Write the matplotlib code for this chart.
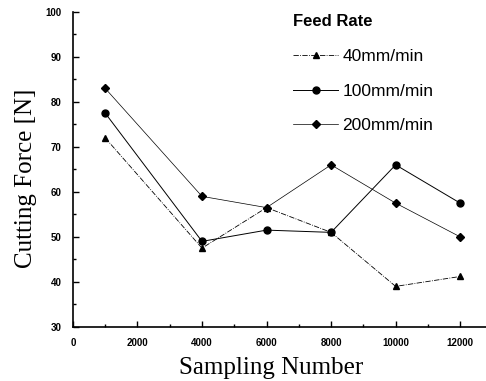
import matplotlib
matplotlib.use("Agg")
import matplotlib.pyplot as plt
from matplotlib.ticker import MultipleLocator

# Daten
sampling = [1000, 4000, 6000, 8000, 10000, 12000]
force_40 = [72, 47.5, 56.5, 51, 39, 41.2]
force_100 = [77.5, 49, 51.5, 51, 66, 57.5]
force_200 = [83, 59, 56.5, 66, 57.5, 50]
labels = ["40mm/min", "100mm/min", "200mm/min"]

fig = plt.figure(figsize=(4.86, 3.81), dpi=100)
ax = fig.add_axes([0.150, 0.142, 0.85, 0.827])

ax.plot(sampling, force_40, color="black", lw=0.6, ls="-.", marker="^", ms=5, label=labels[0])
ax.plot(sampling, force_100, color="black", lw=0.7, ls="-", marker="o", ms=5, label=labels[1])
ax.plot(sampling, force_200, color="black", lw=0.5, ls="-", marker="D", ms=4, label=labels[2])

ax.set_xlim(0, 12800)
ax.set_ylim(30, 100)
ax.xaxis.set_major_locator(MultipleLocator(2000))
ax.xaxis.set_minor_locator(MultipleLocator(1000))
ax.yaxis.set_major_locator(MultipleLocator(10))
ax.yaxis.set_minor_locator(MultipleLocator(5))

for s in ["top", "right"]:
    ax.spines[s].set_visible(False)
ax.spines["left"].set_linewidth(1.2)
ax.spines["bottom"].set_linewidth(1.2)
ax.tick_params(which="both", direction="in", width=1)
ax.tick_params(which="major", length=4, pad=8)
ax.tick_params(which="minor", length=2)

for lab in ax.get_xticklabels() + ax.get_yticklabels():
    lab.set_fontfamily("Liberation Sans")
    lab.set_fontweight("bold")
    lab.set_fontsize(7)

ax.set_xlabel("Sampling Number", fontfamily="Liberation Serif", fontsize=18)
ax.set_ylabel("Cutting Force [N]", fontfamily="Liberation Serif", fontsize=18)
ax.xaxis.set_label_coords(0.48, -0.095)
ax.yaxis.set_label_coords(-0.088, 0.47)

leg = fig.legend(loc="upper left", bbox_to_anchor=(0.603, 0.962), frameon=False,
                 title="Feed Rate", labelspacing=1.12, handlelength=2.6,
                 handletextpad=0.25, borderpad=0, borderaxespad=0,
                 prop={"family": "Liberation Sans", "size": 12.5})
leg.get_title().set_fontfamily("Liberation Sans")
leg.get_title().set_fontsize(12)
leg.get_title().set_fontweight("bold")
leg._legend_box.align = "left"

plt.savefig("out.png", dpi=100)
